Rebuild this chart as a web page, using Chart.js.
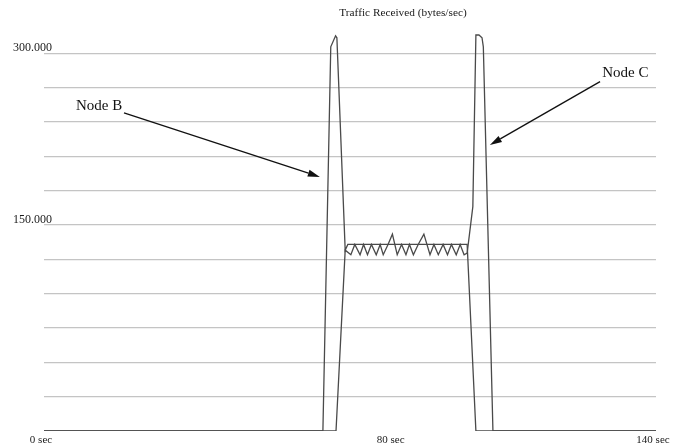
<!DOCTYPE html>
<html><head><meta charset="utf-8">
<script src="https://cdn.jsdelivr.net/npm/chart.js@4.4.1/dist/chart.umd.min.js"></script>
<style>html,body{margin:0;padding:0;background:#fff}#wrap{width:678px;height:446px;position:relative}</style>
</head><body><div id="wrap"><canvas id="c"></canvas></div>
<script>
const chartTitle = 'Traffic Received (bytes/sec)';
const xTickValues = [0, 80, 140];
const xTickLabels = ['0 sec', '80 sec', '140 sec'];
const yGridValues = [0, 30000, 60000, 90000, 120000, 150000, 180000, 210000, 240000, 270000, 300000];
const yLabelValues = [150000, 300000];
const yLabelTexts = ['150.000', '300.000'];

// Node B received traffic (seconds, bytes/sec)
const nodeBSeconds = [0, 63.8, 65.6, 66.7, 67.0, 68.9, 69.5, 96.8, 98.8, 140];
const nodeBBytes   = [-30000, -30000, 305700, 315300, 313600, 128000, 133000, 133000, -30000, -30000];

// Node C received traffic (seconds, bytes/sec)
const nodeCSeconds = [0, 66.8, 68.9, 70.2, 71.1, 72.3, 73.1, 74.0, 74.9, 76.0, 76.9, 77.6, 78.7, 79.7, 80.8, 81.8, 82.8, 83.6, 84.5, 85.6, 86.9, 88.3, 89.2, 90.2, 91.3, 92.3, 93.2, 94.3, 95.2, 96.1, 96.8, 98.1, 98.8, 99.5, 100.2, 100.5, 102.7, 140];
const nodeCBytes   = [-30000, -30000, 128000, 124000, 133000, 124000, 133000, 124000, 133000, 124000, 133000, 124000, 133000, 142000, 124000, 133000, 124000, 133000, 124000, 133000, 142000, 124000, 133000, 124000, 133000, 124000, 133000, 124000, 133000, 124000, 125500, 166000, 316000, 316000, 313600, 305700, -30000, -30000];

const toPoints = (xs, ys) => xs.map((x, i) => ({x, y: ys[i]}));

const serif = '"Liberation Serif", "Times New Roman", serif';

const overlay = {
  id: 'overlay',
  afterDraw(chart, args, opts) {
    const {ctx, chartArea, scales: {x, y}} = chart;
    ctx.save();
    ctx.fillStyle = '#1a1a1a';
    ctx.textAlign = 'center';
    ctx.textBaseline = 'middle';
    ctx.font = '11.3px ' + serif;
    ctx.fillText(chartTitle, chartArea.left + (chartArea.right - chartArea.left) * 0.5866, 13.5);
    for (const a of opts.notes) {
      ctx.font = '15px ' + serif;
      ctx.fillStyle = '#111';
      ctx.fillText(a.text, x.getPixelForValue(a.labelAt[0]), y.getPixelForValue(a.labelAt[1]));
      const x0 = x.getPixelForValue(a.from[0]), y0 = y.getPixelForValue(a.from[1]);
      const x1 = x.getPixelForValue(a.to[0]), y1 = y.getPixelForValue(a.to[1]);
      const ang = Math.atan2(y1 - y0, x1 - x0);
      const hl = 12, hw = 3.5;
      const bx = x1 - hl * Math.cos(ang), by = y1 - hl * Math.sin(ang);
      ctx.strokeStyle = '#111';
      ctx.lineWidth = 1.3;
      ctx.beginPath(); ctx.moveTo(x0, y0); ctx.lineTo(bx, by); ctx.stroke();
      ctx.beginPath();
      ctx.moveTo(x1, y1);
      ctx.lineTo(bx + hw * Math.sin(ang), by - hw * Math.cos(ang));
      ctx.lineTo(bx - hw * Math.sin(ang), by + hw * Math.cos(ang));
      ctx.closePath(); ctx.fill();
    }
    ctx.restore();
  }
};

const lineStyle = {borderColor: '#4a4a4a', borderWidth: 1.3, pointRadius: 0, tension: 0, fill: false};

new Chart(document.getElementById('c'), {
  type: 'line',
  data: {
    datasets: [
      Object.assign({label: 'Node B', data: toPoints(nodeBSeconds, nodeBBytes)}, lineStyle),
      Object.assign({label: 'Node C', data: toPoints(nodeCSeconds, nodeCBytes)}, lineStyle)
    ]
  },
  options: {
    responsive: true,
    maintainAspectRatio: false,
    animation: false,
    devicePixelRatio: 1,
    layout: {padding: {top: 19, right: 22, bottom: 0, left: 0}},
    plugins: {
      legend: {display: false},
      title: {display: false},
      tooltip: {enabled: false},
      overlay: {
        notes: [
          {text: 'Node B', labelAt: [12.6, 254000], from: [18.3, 248000], to: [63.1, 192000]},
          {text: 'Node C', labelAt: [133.0, 283000], from: [127.2, 275300], to: [102.0, 220000]}
        ]
      }
    },
    scales: {
      x: {
        type: 'linear', min: 0, max: 140,
        grid: {display: false, drawTicks: false},
        border: {display: false},
        afterBuildTicks: s => { s.ticks = xTickValues.map(v => ({value: v})); },
        afterFit: s => { s.height = 15; },
        ticks: {
          autoSkip: false, maxRotation: 0, padding: 3, labelOffset: -3,
          color: '#1a1a1a', font: {family: serif, size: 11},
          callback: v => { const i = xTickValues.indexOf(v); return i >= 0 ? xTickLabels[i] : ''; }
        }
      },
      y: {
        type: 'linear', min: -30000, max: 330000,
        grid: {color: '#c4c4c4', lineWidth: 1.3, drawTicks: false},
        border: {display: false},
        afterBuildTicks: s => { s.ticks = yGridValues.map(v => ({value: v})); },
        afterFit: s => { s.width = 44; },
        ticks: {
          autoSkip: false, mirror: true, padding: -31, labelOffset: -5,
          color: '#1a1a1a', font: {family: serif, size: 12},
          callback: v => { const i = yLabelValues.indexOf(v); return i >= 0 ? yLabelTexts[i] : ''; }
        }
      }
    }
  },
  plugins: [overlay]
});
</script>
</body></html>
